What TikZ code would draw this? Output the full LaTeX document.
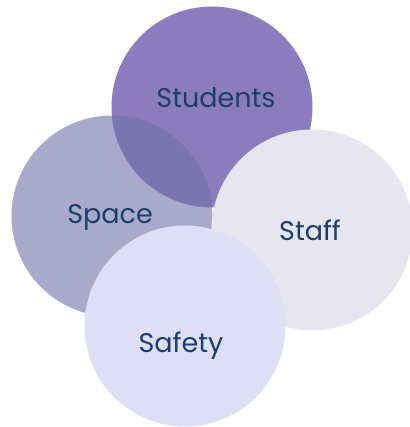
\documentclass[tikz,border=0pt]{standalone}
\usepackage{fontspec}
\setmainfont{Poppins}
\definecolor{stud}{RGB}{139,124,192}
\definecolor{spc}{RGB}{112,113,168}
\definecolor{stf}{RGB}{230,229,240}
\definecolor{saf}{RGB}{222,223,245}
\definecolor{txt}{RGB}{28,62,108}
\begin{document}
\begin{tikzpicture}[x=1pt,y=-1pt,
  bubble/.style={circle,draw=none,minimum size=201pt,inner sep=0pt},
  lbl/.style={text=txt,font=\fontsize{27}{32}\selectfont}]
\useasboundingbox (0,0) rectangle (409,427);
\node[bubble,fill=stud] (students) at (212,107) {};
\node[bubble,fill=spc,fill opacity=0.6] (space) at (112,216) {};
\node[bubble,fill=stf] (staff) at (312,230) {};
\node[bubble,fill=saf] (safety) at (185,326) {};
\node[lbl] (tstudents) at (216,98) {Students};
\node[lbl] (tspace) at (110,217) {Space};
\node[lbl] (tstaff) at (310,230) {Staff};
\node[lbl] (tsafety) at (181,346) {Safety};
\end{tikzpicture}
\end{document}
